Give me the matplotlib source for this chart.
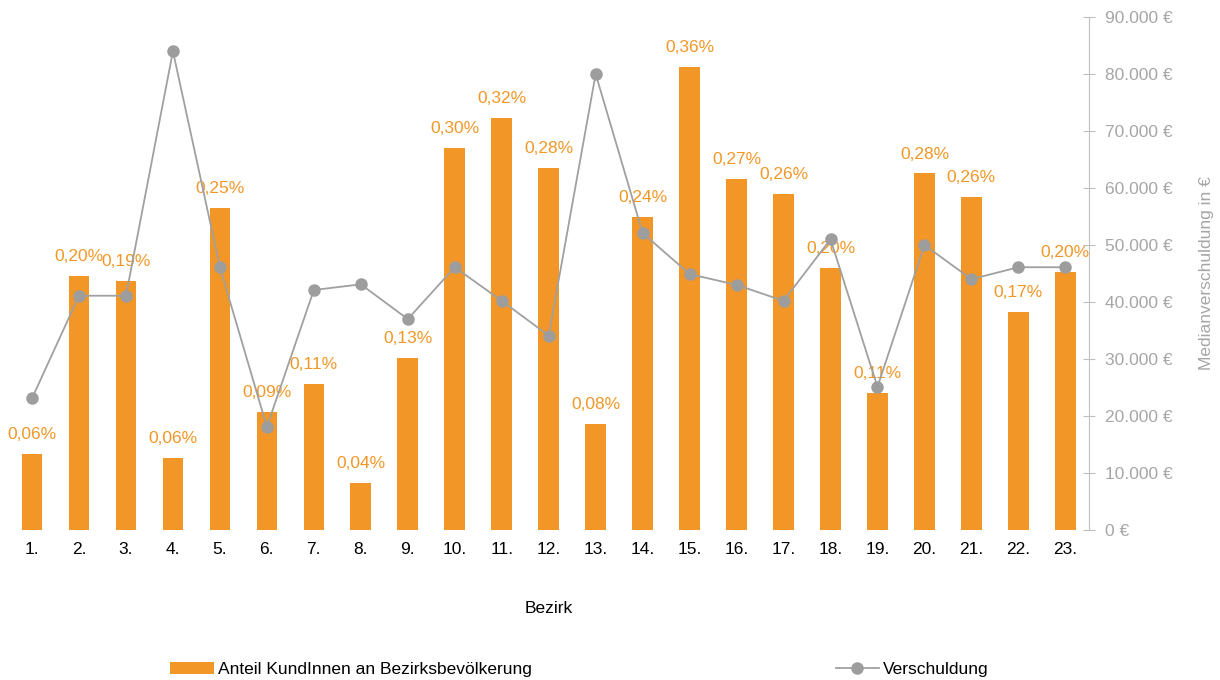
import matplotlib.pyplot as plt
from matplotlib.ticker import FuncFormatter

plt.rcParams['font.family'] = ['Liberation Sans', 'DejaVu Sans']

bezirke = [f"{i}." for i in range(1, 24)]
anteil = [0.059, 0.198, 0.194, 0.056, 0.251, 0.092, 0.114, 0.037, 0.134, 0.298, 0.321, 0.282,
          0.083, 0.244, 0.361, 0.274, 0.262, 0.204, 0.107, 0.278, 0.260, 0.170, 0.201]
verschuldung = [23100, 41100, 41100, 84000, 46100, 18100, 42100, 43100, 37000, 46100, 40200, 34100,
                80000, 52100, 44900, 43000, 40200, 51000, 25100, 50000, 44000, 46100, 46100]

orange = '#F29727'
grey = '#A0A0A0'
axis_grey = '#A6A6A6'

fig = plt.figure(figsize=(12.2, 6.8), dpi=100)
ax = fig.add_axes([0.007, 0.2206, 0.8855, 0.7544])
x = list(range(len(bezirke)))

bars = ax.bar(x, anteil, width=0.44, color=orange, label='Anteil KundInnen an Bezirksbevölkerung', zorder=1)
for xi, v in zip(x, anteil):
    ax.annotate(f"{v:.2f}".replace('.', ',') + '%', (xi, v), xytext=(0, 14), textcoords='offset points',
                ha='center', va='center', color=orange, fontsize=12.5, zorder=5)
ax.set_ylim(0, 0.4)
ax.set_xlim(-0.5, 22.5)
ax.set_yticks([])
for s in ax.spines.values():
    s.set_visible(False)
ax.set_xticks(x)
ax.set_xticklabels(bezirke, fontsize=12.5)
ax.tick_params(axis='x', length=0, pad=9)
ax.set_xlabel('Bezirk', fontsize=12.5, labelpad=31)

ax2 = ax.twinx()
ax2.plot(x, verschuldung, color=grey, lw=1.3, marker='o', markersize=8, markerfacecolor='#9D9D9D',
         markeredgecolor='#9D9D9D', label='Verschuldung', zorder=3)
ax2.set_ylim(0, 90000)
ax2.set_yticks(range(0, 90001, 10000))
ax2.yaxis.set_major_formatter(FuncFormatter(lambda v, p: f"{int(v):,} €".replace(',', '.')))
for k, s in ax2.spines.items():
    s.set_visible(k == 'right')
ax2.spines['right'].set_color('#BFBFBF')
ax2.tick_params(axis='y', direction='inout', length=9, color='#BFBFBF', labelcolor=axis_grey,
                labelsize=12.5, pad=7)
ax2.set_ylabel('Medianverschuldung in €', color=axis_grey, fontsize=12.5, labelpad=19)

handles = [bars, ax2.get_lines()[0]]
fig.legend(handles, [h.get_label() for h in handles], loc='center', bbox_to_anchor=(0.475, 0.016),
           ncol=2, frameon=False, fontsize=12.5, handlelength=2.5, handletextpad=0.25, columnspacing=17.5)

fig.savefig('out.png', dpi=100)
